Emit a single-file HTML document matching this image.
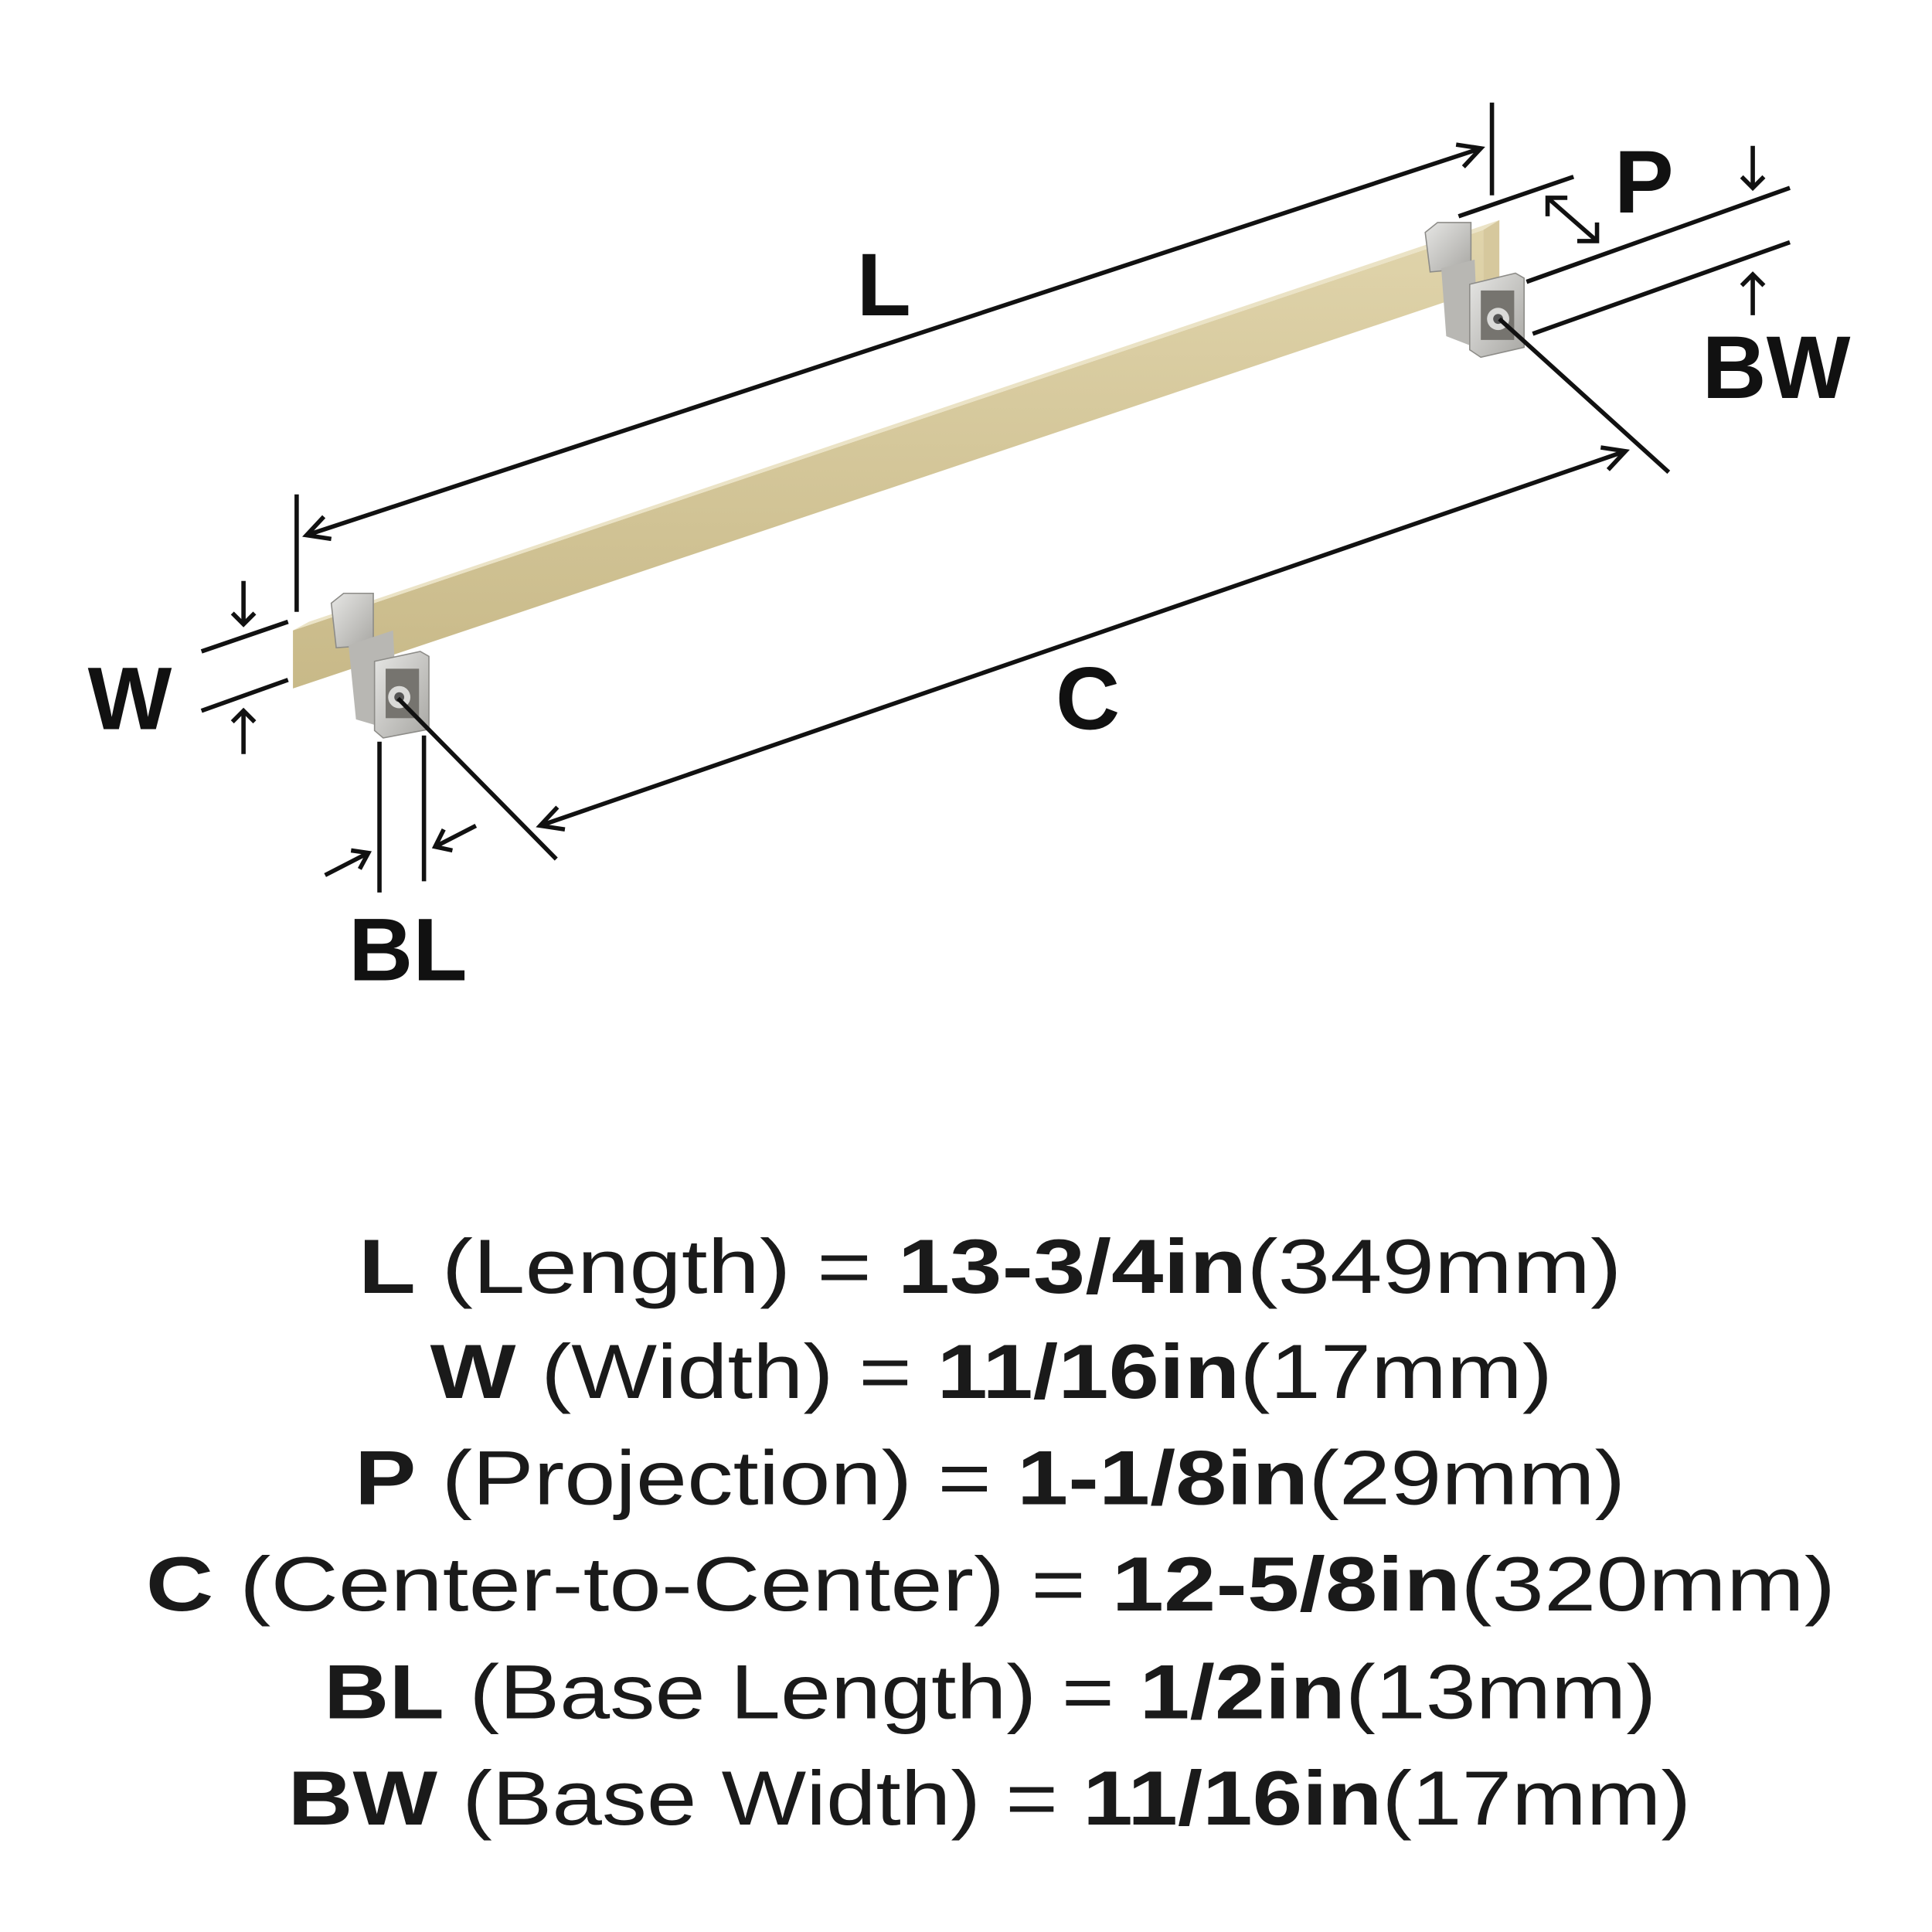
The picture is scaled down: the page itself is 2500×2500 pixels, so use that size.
<!DOCTYPE html>
<html><head><style>html,body{margin:0;padding:0;background:#fff}svg{display:block}</style></head>
<body>
<svg width="2500" height="2500" viewBox="0 0 1563 1563" xmlns="http://www.w3.org/2000/svg">
<defs>
<linearGradient id="gold" x1="0" y1="0" x2="0" y2="1"><stop offset="0" stop-color="#e0d4ab"/><stop offset="1" stop-color="#c8b988"/></linearGradient>
<linearGradient id="sil" x1="0" y1="0" x2="1" y2="1"><stop offset="0" stop-color="#e6e6e4"/><stop offset="1" stop-color="#a8a7a3"/></linearGradient>
</defs>
<!-- bar -->
<polygon points="237,510 1200,186 1200,234 237,557" fill="url(#gold)"/>
<polygon points="237,510 250,503 1213,178 1200,186" fill="#ebe3c6"/>
<polygon points="1200,186 1213,178 1213,226 1200,234" fill="#d6c89d"/>
<!-- left bracket -->
<g>
<polygon points="268,488 278,480 302,480 302,522 272,524" fill="url(#sil)" stroke="#8d8c88" stroke-width="1"/>
<polygon points="282,522 318,510 322,592 288,582" fill="#b8b7b3"/>
<polygon points="303,535 340,527 347,531 347,590 310,597 303,591" fill="url(#sil)" stroke="#8d8c88" stroke-width="1"/>
<rect x="312" y="541" width="27" height="40" fill="#76746f"/>
<circle cx="323" cy="564" r="9" fill="#dadad8"/>
<circle cx="323" cy="564" r="4" fill="#555"/>
</g>
<!-- right bracket -->
<g>
<polygon points="1153,188 1163,180 1190,180 1190,217 1157,220" fill="url(#sil)" stroke="#8d8c88" stroke-width="1"/>
<polygon points="1166,217 1193,210 1196,282 1170,272" fill="#b8b7b3"/>
<polygon points="1189,230 1226,221 1233,225 1233,281 1198,289 1189,283" fill="url(#sil)" stroke="#8d8c88" stroke-width="1"/>
<rect x="1198" y="235" width="27" height="40" fill="#76746f"/>
<circle cx="1212" cy="258" r="9" fill="#dadad8"/>
<circle cx="1212" cy="258" r="4" fill="#555"/>
</g>
<g stroke="#111" stroke-width="3.5" fill="none" stroke-linecap="butt">
<line x1="240" y1="400" x2="240" y2="495"/>
<line x1="1207" y1="83" x2="1207" y2="158"/>
<line x1="248" y1="433" x2="1198" y2="120"/>
<polyline points="262,418 248,433 268,436"/>
<polyline points="1178,117 1198,120 1184,135"/>
<line x1="1180" y1="175" x2="1273" y2="143"/>
<line x1="1235" y1="228" x2="1448" y2="152"/>
<line x1="1252" y1="160" x2="1292" y2="195"/>
<polyline points="1252,175 1252,160 1268,160"/>
<polyline points="1276,195 1292,195 1292,180"/>
<line x1="1240" y1="270" x2="1448" y2="196"/>
<line x1="1418" y1="118" x2="1418" y2="152"/>
<polyline points="1409,143 1418,152 1427,143"/>
<line x1="1418" y1="222" x2="1418" y2="255"/>
<polyline points="1409,231 1418,222 1427,231"/>
<line x1="1213" y1="258" x2="1350" y2="382"/>
<line x1="322" y1="565" x2="450" y2="695"/>
<line x1="1315" y1="365" x2="437" y2="668"/>
<polyline points="1295,362 1315,365 1301,380"/>
<polyline points="451,653 437,668 457,671"/>
<line x1="163" y1="527" x2="233" y2="503"/>
<line x1="163" y1="575" x2="233" y2="550"/>
<line x1="197" y1="470" x2="197" y2="505"/>
<polyline points="188,496 197,505 206,496"/>
<line x1="197" y1="610" x2="197" y2="575"/>
<polyline points="188,584 197,575 206,584"/>
<line x1="307" y1="600" x2="307" y2="722"/>
<line x1="343" y1="595" x2="343" y2="713"/>
<line x1="263" y1="708" x2="298" y2="690"/>
<polyline points="284,688 298,690 291,703"/>
<line x1="385" y1="668" x2="352" y2="685"/>
<polyline points="359,671 352,685 366,688"/>
</g>
<g font-family="Liberation Sans, sans-serif" font-weight="bold" fill="#111" font-size="72">
<text x="715" y="255" text-anchor="middle">L</text>
<text x="1330" y="172" text-anchor="middle">P</text>
<text x="1437" y="322" text-anchor="middle">BW</text>
<text x="880" y="590" text-anchor="middle">C</text>
<text x="105" y="590" text-anchor="middle">W</text>
<text x="330" y="793" text-anchor="middle">BL</text>
</g>
<g font-family="Liberation Sans, sans-serif" fill="#1a1a1a" font-size="62">
<text x="290" y="1046" textLength="1022" lengthAdjust="spacingAndGlyphs"><tspan font-weight="bold">L</tspan> (Length) = <tspan font-weight="bold">13-3/4in</tspan>(349mm)</text>
<text x="348" y="1131" textLength="908" lengthAdjust="spacingAndGlyphs"><tspan font-weight="bold">W</tspan> (Width) = <tspan font-weight="bold">11/16in</tspan>(17mm)</text>
<text x="287" y="1217" textLength="1028" lengthAdjust="spacingAndGlyphs"><tspan font-weight="bold">P</tspan> (Projection) = <tspan font-weight="bold">1-1/8in</tspan>(29mm)</text>
<text x="118" y="1303" textLength="1367" lengthAdjust="spacingAndGlyphs"><tspan font-weight="bold">C</tspan> (Center-to-Center) = <tspan font-weight="bold">12-5/8in</tspan>(320mm)</text>
<text x="262" y="1390" textLength="1078" lengthAdjust="spacingAndGlyphs"><tspan font-weight="bold">BL</tspan> (Base Length) = <tspan font-weight="bold">1/2in</tspan>(13mm)</text>
<text x="233" y="1476" textLength="1135" lengthAdjust="spacingAndGlyphs"><tspan font-weight="bold">BW</tspan> (Base Width) = <tspan font-weight="bold">11/16in</tspan>(17mm)</text>
</g>
</svg>
</body></html>
